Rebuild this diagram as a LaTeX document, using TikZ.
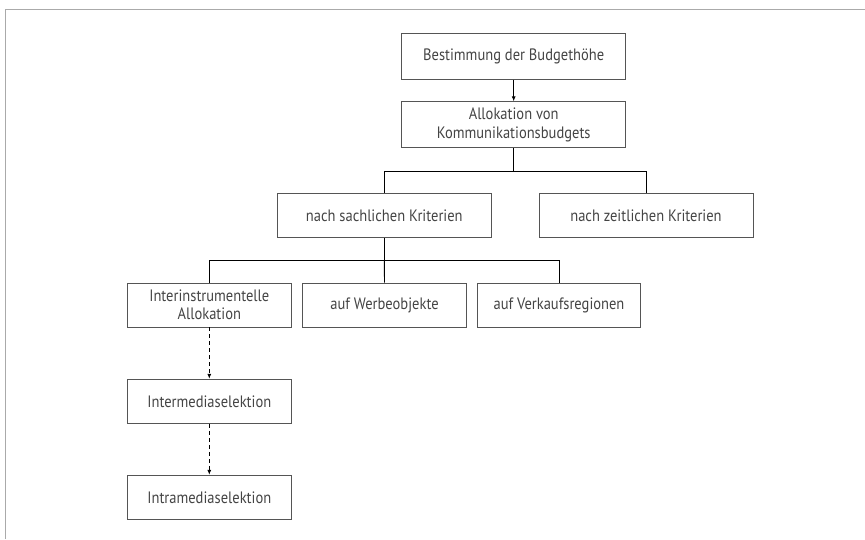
\documentclass[tikz,border=0pt]{standalone}
\usepackage{fontspec}
\setmainfont[FakeStretch=0.88]{PT Sans}
\usetikzlibrary{arrows.meta}
\definecolor{boxgray}{HTML}{555555}
\definecolor{textgray}{HTML}{444444}
\definecolor{bordergray}{HTML}{AAAAAA}
\begin{document}
\begin{tikzpicture}[x=1pt,y=-1pt,
  box/.style={draw=boxgray, line width=0.9pt, inner sep=0pt, align=center,
    text=textgray, font=\fontsize{16.5}{18.5}\selectfont},
  wide/.style={box, minimum width=214pt, minimum height=44pt},
  narrow/.style={box, minimum width=163.4pt, minimum height=44pt},
  topw/.style={box, minimum width=224pt, minimum height=46pt},
  conn/.style={draw=black, line width=0.9pt},
  arr/.style={conn, -{Latex[length=5pt,width=4pt]}},
  darr/.style={arr, dashed, dash pattern=on 4pt off 3pt}]
\useasboundingbox (0,0) rectangle (865,539);
\draw[bordergray, line width=1.3pt] (5.3,539) -- (5.3,9.7) -- (865,9.7);
\node[topw] (top) at (513.7,56.3) {Bestimmung der Budgethöhe};
\node[topw] (alloc) at (513.7,124.8) {Allokation von\\Kommunikationsbudgets};
\node[wide] (sach) at (384.3,215.7) {nach sachlichen Kriterien};
\node[wide] (zeit) at (646,215.7) {nach zeitlichen Kriterien};
\node[narrow] (inter) at (209.3,305) {Interinstrumentelle\\Allokation};
\node[narrow] (werbe) at (384.5,305) {auf Werbeobjekte};
\node[narrow] (verk) at (559,305) {auf Verkaufsregionen};
\node[narrow] (intermed) at (209.3,401.3) {Intermediaselektion};
\node[narrow] (intramed) at (209.3,497.3) {Intramediaselektion};
\draw[arr] (top) -- (alloc);
\draw[conn] (alloc.south) -- ++(0,23) coordinate (b1) -| (sach.north);
\draw[conn] (b1) -| (zeit.north);
\draw[conn] (sach.south) -- ++(0,22.6) coordinate (b2) -| (inter.north);
\draw[conn] (b2) -- (werbe.north);
\draw[conn] (b2) -| (verk.north);
\draw[darr] (inter) -- (intermed);
\draw[darr] (intermed) -- (intramed);
\end{tikzpicture}
\end{document}
